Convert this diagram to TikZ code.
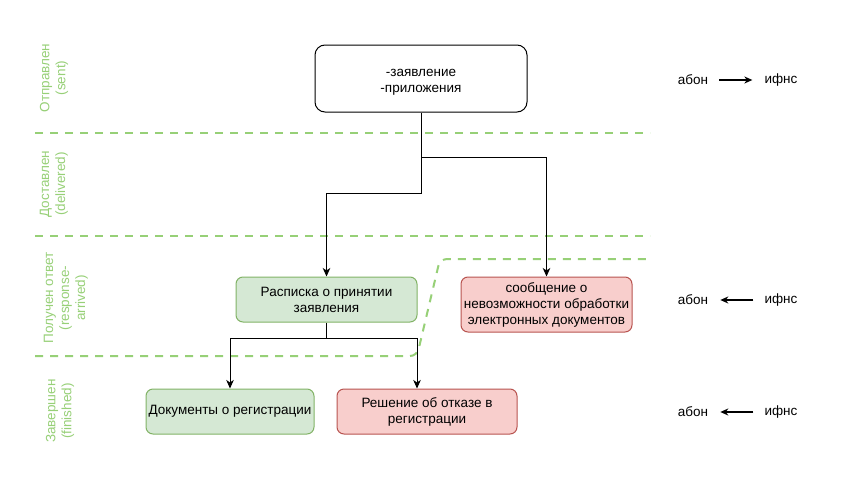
\documentclass[tikz,border=0pt]{standalone}
\usepackage{fontspec}
\setmainfont{Liberation Sans}
\usetikzlibrary{arrows.meta}
\definecolor{lane}{HTML}{97D077}
\definecolor{gfill}{HTML}{D5E8D4}
\definecolor{gline}{HTML}{82B366}
\definecolor{rfill}{HTML}{F8CECC}
\definecolor{rline}{HTML}{B85450}
\begin{document}
\begin{tikzpicture}[x=1pt,y=-1pt,
 every node/.style={font=\fontsize{13.5pt}{16pt}\selectfont},
 box/.style={draw, rounded corners=7pt, align=center, inner sep=0pt, line width=1pt},
 gbox/.style={box, draw=gline, fill=gfill},
 rbox/.style={box, draw=rline, fill=rfill},
 arr/.style={-{Stealth[length=8.5pt,width=7.5pt,inset=2.5pt]}, line width=1pt},
 lanesep/.style={draw=lane, line width=2pt, dash pattern=on 8pt off 7pt},
 lanelbl/.style={text=lane, rotate=90, align=center, inner sep=0pt},
 party/.style={inner sep=0pt},
 dirarr/.style={-{Stealth[length=8pt,width=7pt,inset=2.5pt]}, line width=1.8pt, shorten <=11pt, shorten >=12pt}
]
\useasboundingbox[fill=white] (0,0) rectangle (857,482);

% lane separators
\draw[lanesep] (35,133) -- (650,133);
\draw[lanesep] (35,236) -- (650,236);
\draw[lanesep, rounded corners=7pt] (35,356) -- (417,356) -- (440,259) -- (650,259);

% lane labels
\node[lanelbl] (l1) at (54,78) {Отправлен\\(sent)};
\node[lanelbl] (l2) at (54,184) {Доставлен\\(delivered)};
\node[lanelbl] (l3) at (66,298) {Получен ответ\\(response-\\arrived)};
\node[lanelbl] (l4) at (60,411) {Завершен\\(finished)};

% boxes
\node[box, draw=black, fill=white, rounded corners=10pt, minimum width=212pt, minimum height=67pt] (top) at (421,78.5) {\rule{0pt}{15pt}-заявление\\-приложения};
\node[gbox, minimum width=181pt, minimum height=45pt] (rasp) at (326.5,299.5) {Расписка о принятии\\заявления};
\node[rbox, minimum width=171pt, minimum height=55pt] (msg) at (546.5,304.5) {сообщение о\\невозможности обработки\\электронных документов};
\node[gbox, minimum width=168pt, minimum height=45pt] (docs) at (230,411.5) {Документы о регистрации};
\node[rbox, minimum width=180pt, minimum height=45pt] (dec) at (427,411.5) {Решение об отказе в\\регистрации};

% connectors
\coordinate (j1) at (421,157);
\coordinate (j2) at (421,193);
\coordinate (j3) at (326.5,338);
\coordinate (j4) at (417,338);
\draw[arr] (top.south) -- (j1) -| (msg.north);
\draw[arr] (j1) -- (j2) -| (rasp.north);
\draw[arr] (rasp.south) -- (j3) -| (docs.north);
\draw[arr] (j3) -- (j4) -- (j4 |- dec.north);

% parties
\node[party] (ab1) at (693,80) {абон};
\node[party] (if1) at (781,80) {ифнс};
\node[party] (ab2) at (693,300) {абон};
\node[party] (if2) at (781,300) {ифнс};
\node[party] (ab3) at (693,412) {абон};
\node[party] (if3) at (781,412) {ифнс};
\draw[dirarr] (ab1.east) -- (if1.west);
\draw[dirarr] (if2.west) -- (ab2.east);
\draw[dirarr] (if3.west) -- (ab3.east);
\end{tikzpicture}
\end{document}
